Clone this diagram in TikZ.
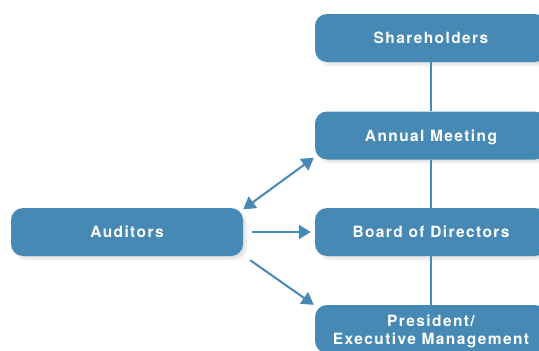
\documentclass[tikz,border=0pt]{standalone}
\usepackage{fontspec}
\setmainfont{TeX Gyre Heros}[LetterSpace=9]
\usetikzlibrary{arrows.meta,shadows.blur}
\definecolor{boxblue}{HTML}{4589B4}
\tikzset{
  boxtext/.style={inner sep=0pt, text=white, font=\bfseries\fontsize{15.5pt}{18pt}\selectfont, align=center},
  orgbox/.style={boxtext, fill=boxblue, rounded corners=12pt, minimum width=232pt, minimum height=48pt,
    blur shadow={shadow xshift=3pt, shadow yshift=-3pt, shadow blur steps=8, shadow opacity=12}},
  oneline/.style={text height=11pt, text depth=0pt},
  link/.style={draw=boxblue, line width=2pt},
  arr/.style={draw=boxblue, line width=2pt, -{Triangle[length=12pt,width=14pt]}},
  darr/.style={draw=boxblue, line width=2pt, {Triangle[length=12pt,width=14pt]}-{Triangle[length=12pt,width=14pt]}}
}
\begin{document}
\begin{tikzpicture}[x=1pt,y=-1pt]
\useasboundingbox (0,0) rectangle (539,351);
\node[orgbox,oneline] (sh) at (431,38) {Shareholders};
\node[orgbox,oneline] (am) at (431,135.5) {Annual Meeting};
\node[orgbox,oneline] (bd) at (431,232) {Board of Directors};
\node[orgbox] (pr) at (431,329) {};
\node[boxtext] (prt) at ([yshift=-2.5pt]pr.center) {President/\\Executive Management};
\node[orgbox,oneline] (au) at (127,232) {Auditors};
\draw[link] (sh) -- (am);
\draw[link] (am) -- (bd);
\draw[link] (bd) -- (pr);
\coordinate (a1) at ([xshift=0pt,yshift=-1.5pt]au.north east);
\coordinate (a2) at ([xshift=9pt]au.east);
\coordinate (a3) at ([xshift=7pt,yshift=-4pt]au.south east);
\coordinate (b1) at ([xshift=-1pt,yshift=2pt]am.south west);
\coordinate (b2) at ([xshift=-4pt]bd.west);
\coordinate (b3) at ([xshift=-1pt,yshift=0pt]pr.north west);
\draw[darr] (a1) -- (b1);
\draw[arr] (a2) -- (b2);
\draw[arr] (a3) -- (b3);
\end{tikzpicture}
\end{document}
